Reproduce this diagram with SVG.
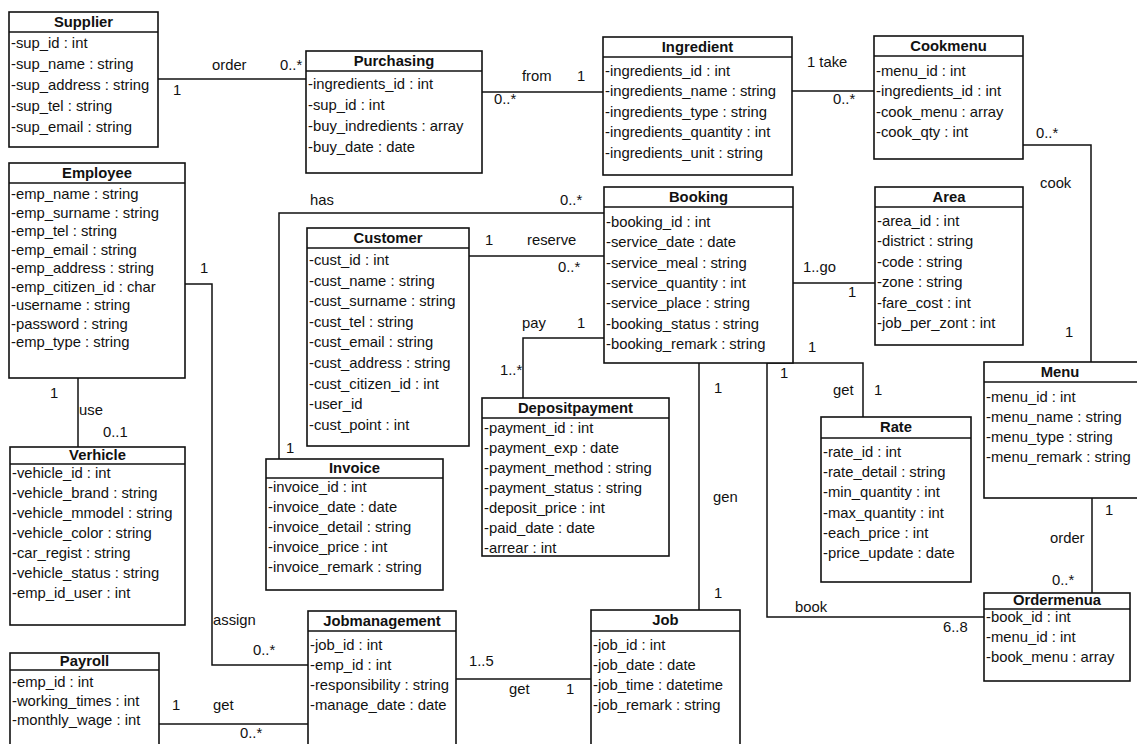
<svg xmlns="http://www.w3.org/2000/svg" width="1137" height="744" viewBox="0 0 1137 744">
<style>
.box{fill:#fff;stroke:#111;stroke-width:1.6}
.sep{stroke:#111;stroke-width:1.4}
text{font-family:"Liberation Sans",Arial,sans-serif;font-size:14.8px;fill:#111}
.h{font-weight:bold;text-anchor:middle}
.c{fill:none;stroke:#111;stroke-width:1.5}
</style>
<rect width="1137" height="744" fill="#fff"/>
<g id="connectors">
<polyline class="c" points="158,79 306,79"/>
<polyline class="c" points="482,92 603,92"/>
<polyline class="c" points="792,91 874,91"/>
<polyline class="c" points="1023,145 1091,145 1091,362"/>
<polyline class="c" points="793,283 875,283"/>
<polyline class="c" points="469,256 604,256"/>
<polyline class="c" points="279,459 279,213 604,213"/>
<polyline class="c" points="523,398 523,338 604,338"/>
<polyline class="c" points="699,363 699,610"/>
<polyline class="c" points="767,363 863,363 863,417"/>
<polyline class="c" points="767,363 767,617 984,617"/>
<polyline class="c" points="1092,498 1092,593"/>
<polyline class="c" points="78,378 78,447"/>
<polyline class="c" points="185,284 212,284 212,665 308,665"/>
<polyline class="c" points="159,724 308,724"/>
<polyline class="c" points="456,679 591,679"/>
<text x="212" y="70">order</text><text x="280" y="70">0..*</text><text x="173" y="95">1</text>
<text x="522" y="81">from</text><text x="577" y="81">1</text><text x="494" y="104">0..*</text>
<text x="807" y="67">1 take</text><text x="833" y="104">0..*</text>
<text x="1036" y="138">0..*</text><text x="1040" y="188">cook</text><text x="1065" y="337">1</text>
<text x="803" y="272">1..go</text><text x="848" y="297">1</text>
<text x="485" y="245">1</text><text x="527" y="245">reserve</text><text x="558" y="272">0..*</text>
<text x="310" y="205">has</text><text x="560" y="205">0..*</text><text x="286" y="453">1</text>
<text x="522" y="328">pay</text><text x="577" y="328">1</text><text x="500" y="375">1..*</text>
<text x="714" y="393">1</text><text x="713" y="502">gen</text><text x="714" y="598">1</text>
<text x="808" y="352">1</text><text x="833" y="395">get</text><text x="874" y="395">1</text>
<text x="780" y="378">1</text><text x="795" y="612">book</text><text x="943" y="632">6..8</text>
<text x="1105" y="515">1</text><text x="1050" y="543">order</text><text x="1052" y="585">0..*</text>
<text x="50" y="398">1</text><text x="79" y="415">use</text><text x="103" y="437">0..1</text>
<text x="200" y="273">1</text><text x="213" y="625">assign</text><text x="253" y="655">0..*</text>
<text x="172" y="710">1</text><text x="213" y="710">get</text><text x="240" y="738">0..*</text>
<text x="469" y="666">1..5</text><text x="509" y="694">get</text><text x="566" y="694">1</text>
</g>
<g id="supplier">
<rect class="box" x="9" y="12" width="149" height="135"/><line class="sep" x1="9" y1="32" x2="158" y2="32"/>
<text class="h" x="83.5" y="27">Supplier</text>
<text x="11" y="48">-sup_id : int</text><text x="11" y="69">-sup_name : string</text><text x="11" y="90">-sup_address : string</text><text x="11" y="111">-sup_tel : string</text><text x="11" y="132">-sup_email : string</text>
</g>
<g id="purchasing">
<rect class="box" x="306" y="51" width="176" height="122"/><line class="sep" x1="306" y1="71" x2="482" y2="71"/>
<text class="h" x="394" y="66">Purchasing</text>
<text x="308" y="89">-ingredients_id : int</text><text x="308" y="110">-sup_id : int</text><text x="308" y="131">-buy_indredients : array</text><text x="308" y="152">-buy_date : date</text>
</g>
<g id="ingredient">
<rect class="box" x="603" y="37" width="189" height="138"/><line class="sep" x1="603" y1="57" x2="792" y2="57"/>
<text class="h" x="697.5" y="52">Ingredient</text>
<text x="605" y="76">-ingredients_id : int</text><text x="605" y="96">-ingredients_name : string</text><text x="605" y="117">-ingredients_type : string</text><text x="605" y="137">-ingredients_quantity : int</text><text x="605" y="158">-ingredients_unit : string</text>
</g>
<g id="cookmenu">
<rect class="box" x="874" y="36" width="149" height="123"/><line class="sep" x1="874" y1="56" x2="1023" y2="56"/>
<text class="h" x="948.5" y="51">Cookmenu</text>
<text x="876" y="76">-menu_id : int</text><text x="876" y="96">-ingredients_id : int</text><text x="876" y="117">-cook_menu : array</text><text x="876" y="137">-cook_qty : int</text>
</g>
<g id="area">
<rect class="box" x="875" y="187" width="148" height="158"/><line class="sep" x1="875" y1="207" x2="1023" y2="207"/>
<text class="h" x="949" y="202">Area</text>
<text x="877" y="226">-area_id : int</text><text x="877" y="246">-district : string</text><text x="877" y="267">-code : string</text><text x="877" y="287">-zone : string</text><text x="877" y="308">-fare_cost : int</text><text x="877" y="328">-job_per_zont : int</text>
</g>
<g id="employee">
<rect class="box" x="9" y="163" width="176" height="215"/><line class="sep" x1="9" y1="183" x2="185" y2="183"/>
<text class="h" x="97" y="178">Employee</text>
<text x="11" y="199">-emp_name : string</text><text x="11" y="217.5">-emp_surname : string</text><text x="11" y="236">-emp_tel : string</text><text x="11" y="254.5">-emp_email : string</text><text x="11" y="273">-emp_address : string</text><text x="11" y="291.5">-emp_citizen_id : char</text><text x="11" y="310">-username : string</text><text x="11" y="328.5">-password : string</text><text x="11" y="347">-emp_type : string</text>
</g>
<g id="customer">
<rect class="box" x="307" y="228" width="162" height="218"/><line class="sep" x1="307" y1="248" x2="469" y2="248"/>
<text class="h" x="388" y="243">Customer</text>
<text x="309" y="265">-cust_id : int</text><text x="309" y="285.6">-cust_name : string</text><text x="309" y="306.2">-cust_surname : string</text><text x="309" y="326.8">-cust_tel : string</text><text x="309" y="347.4">-cust_email : string</text><text x="309" y="368">-cust_address : string</text><text x="309" y="388.6">-cust_citizen_id : int</text><text x="309" y="409.2">-user_id</text><text x="309" y="429.8">-cust_point : int</text>
</g>
<g id="booking">
<rect class="box" x="604" y="187" width="189" height="176"/><line class="sep" x1="604" y1="207" x2="793" y2="207"/>
<text class="h" x="698.5" y="202">Booking</text>
<text x="606" y="227">-booking_id : int</text><text x="606" y="247.3">-service_date : date</text><text x="606" y="267.6">-service_meal : string</text><text x="606" y="288">-service_quantity : int</text><text x="606" y="308.2">-service_place : string</text><text x="606" y="328.5">-booking_status : string</text><text x="606" y="348.8">-booking_remark : string</text>
</g>
<g id="depositpayment">
<rect class="box" x="482" y="398" width="187" height="158"/><line class="sep" x1="482" y1="418" x2="669" y2="418"/>
<text class="h" x="575.5" y="413">Depositpayment</text>
<text x="484" y="433">-payment_id : int</text><text x="484" y="453">-payment_exp : date</text><text x="484" y="473">-payment_method : string</text><text x="484" y="493">-payment_status : string</text><text x="484" y="513">-deposit_price : int</text><text x="484" y="533">-paid_date : date</text><text x="484" y="553">-arrear : int</text>
</g>
<g id="invoice">
<rect class="box" x="266" y="459" width="177" height="131"/><line class="sep" x1="266" y1="478" x2="443" y2="478"/>
<text class="h" x="354.5" y="473">Invoice</text>
<text x="268" y="492">-invoice_id : int</text><text x="268" y="512">-invoice_date : date</text><text x="268" y="532">-invoice_detail : string</text><text x="268" y="552">-invoice_price : int</text><text x="268" y="572">-invoice_remark : string</text>
</g>
<g id="verhicle">
<rect class="box" x="10" y="447" width="175" height="178"/><line class="sep" x1="10" y1="464" x2="185" y2="464"/>
<text class="h" x="97.5" y="460">Verhicle</text>
<text x="12" y="478">-vehicle_id : int</text><text x="12" y="498">-vehicle_brand : string</text><text x="12" y="518">-vehicle_mmodel : string</text><text x="12" y="538">-vehicle_color : string</text><text x="12" y="558">-car_regist : string</text><text x="12" y="578">-vehicle_status : string</text><text x="12" y="598">-emp_id_user : int</text>
</g>
<g id="payroll">
<rect class="box" x="10" y="653" width="149" height="110"/><line class="sep" x1="10" y1="670" x2="159" y2="670"/>
<text class="h" x="84.5" y="666">Payroll</text>
<text x="12" y="687">-emp_id : int</text><text x="12" y="706">-working_times : int</text><text x="12" y="725">-monthly_wage : int</text>
</g>
<g id="jobmanagement">
<rect class="box" x="308" y="611" width="148" height="150"/><line class="sep" x1="308" y1="631" x2="456" y2="631"/>
<text class="h" x="382" y="626">Jobmanagement</text>
<text x="310" y="650">-job_id : int</text><text x="310" y="670">-emp_id : int</text><text x="310" y="690">-responsibility : string</text><text x="310" y="710">-manage_date : date</text>
</g>
<g id="job">
<rect class="box" x="591" y="610" width="149" height="150"/><line class="sep" x1="591" y1="631" x2="740" y2="631"/>
<text class="h" x="665.5" y="625">Job</text>
<text x="593" y="650">-job_id : int</text><text x="593" y="670">-job_date : date</text><text x="593" y="690">-job_time : datetime</text><text x="593" y="710">-job_remark : string</text>
</g>
<g id="rate">
<rect class="box" x="821" y="417" width="150" height="165"/><line class="sep" x1="821" y1="438" x2="971" y2="438"/>
<text class="h" x="896" y="432">Rate</text>
<text x="823" y="457">-rate_id : int</text><text x="823" y="477">-rate_detail : string</text><text x="823" y="497">-min_quantity : int</text><text x="823" y="518">-max_quantity : int</text><text x="823" y="538">-each_price : int</text><text x="823" y="558">-price_update : date</text>
</g>
<g id="menu">
<rect class="box" x="984" y="362" width="160" height="136"/><line class="sep" x1="984" y1="382" x2="1137" y2="382"/>
<text class="h" x="1060" y="377">Menu</text>
<text x="986" y="402">-menu_id : int</text><text x="986" y="422">-menu_name : string</text><text x="986" y="442">-menu_type : string</text><text x="986" y="462">-menu_remark : string</text>
</g>
<g id="ordermenua">
<rect class="box" x="984" y="593" width="146" height="88"/><line class="sep" x1="984" y1="609" x2="1130" y2="609"/>
<text class="h" x="1057" y="605">Ordermenua</text>
<text x="986" y="622">-book_id : int</text><text x="986" y="642">-menu_id : int</text><text x="986" y="662">-book_menu : array</text>
</g>
</svg>
